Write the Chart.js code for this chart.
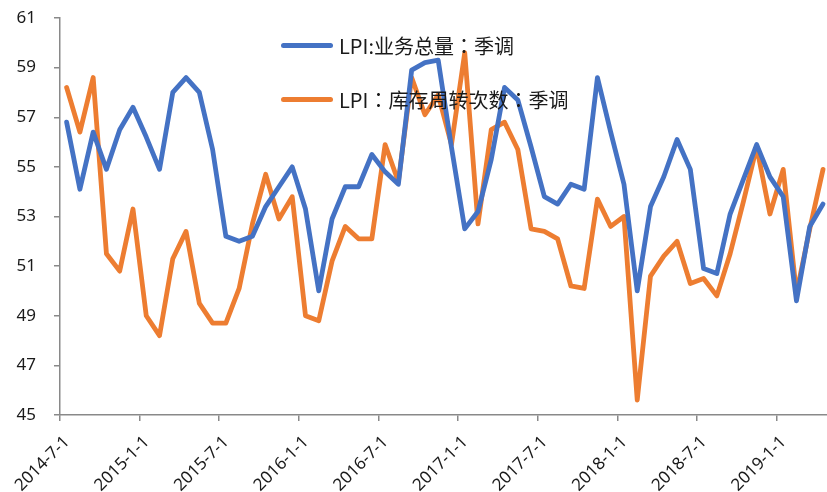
<!DOCTYPE html>
<html>
<head>
<meta charset="utf-8">
<script src="https://cdn.jsdelivr.net/npm/chart.js@4/dist/chart.umd.min.js"></script>
<style>
    body { margin: 0; background: #fff; }
    #wrap { position: relative; width: 827px; height: 492px; }
    .legend-row { position: absolute; left: 281px; height: 26px; display: flex; align-items: center;
        font-family: "Noto Sans CJK TC", "Noto Sans", sans-serif; font-size: 20px; color: #1a1a1a; white-space: nowrap; }
    .legend-row .swatch { width: 52px; height: 5px; border-radius: 3px; margin-right: 6px; }
</style>
</head>
<body>
<div id="wrap">
    <canvas id="lpiChart" width="827" height="492"></canvas>
    <div class="legend-row" style="top:32px;"><span class="swatch" style="background:#4472C4"></span>LPI:业务总量：季调</div>
    <div class="legend-row" style="top:86px;"><span class="swatch" style="background:#ED7D31"></span>LPI：库存周转次数：季调</div>
</div>
<script>
// ========== DATA ========== //
const months = [
    "2014-07", "2014-08", "2014-09", "2014-10", "2014-11", "2014-12",
    "2015-01", "2015-02", "2015-03", "2015-04", "2015-05", "2015-06",
    "2015-07", "2015-08", "2015-09", "2015-10", "2015-11", "2015-12",
    "2016-01", "2016-02", "2016-03", "2016-04", "2016-05", "2016-06",
    "2016-07", "2016-08", "2016-09", "2016-10", "2016-11", "2016-12",
    "2017-01", "2017-02", "2017-03", "2017-04", "2017-05", "2017-06",
    "2017-07", "2017-08", "2017-09", "2017-10", "2017-11", "2017-12",
    "2018-01", "2018-02", "2018-03", "2018-04", "2018-05", "2018-06",
    "2018-07", "2018-08", "2018-09", "2018-10", "2018-11", "2018-12",
    "2019-01", "2019-02", "2019-03", "2019-04"
];

const businessVolume = [
    56.8, 54.1, 56.4, 54.9, 56.5, 57.4, 56.2, 54.9, 58.0, 58.6,
    58.0, 55.7, 52.2, 52.0, 52.2, 53.4, 54.2, 55.0, 53.3, 50.0,
    52.9, 54.2, 54.2, 55.5, 54.8, 54.3, 58.9, 59.2, 59.3, 55.8,
    52.5, 53.2, 55.3, 58.2, 57.7, 55.8, 53.8, 53.5, 54.3, 54.1,
    58.6, 56.4, 54.3, 50.0, 53.4, 54.6, 56.1, 54.9, 50.9, 50.7,
    53.1, 54.5, 55.9, 54.6, 53.8, 49.6, 52.6, 53.5
];

const inventoryTurnover = [
    58.2, 56.4, 58.6, 51.5, 50.8, 53.3, 49.0, 48.2, 51.3, 52.4,
    49.5, 48.7, 48.7, 50.1, 52.7, 54.7, 52.9, 53.8, 49.0, 48.8,
    51.2, 52.6, 52.1, 52.1, 55.9, 54.4, 58.6, 57.1, 57.9, 55.9,
    59.6, 52.7, 56.5, 56.8, 55.7, 52.5, 52.4, 52.1, 50.2, 50.1,
    53.7, 52.6, 53.0, 45.6, 50.6, 51.4, 52.0, 50.3, 50.5, 49.8,
    51.5, 53.6, 55.8, 53.1, 54.9, 49.9, 52.5, 54.9
];

const xTickLabels = [
    "2014-7-1", "2015-1-1", "2015-7-1", "2016-1-1", "2016-7-1",
    "2017-1-1", "2017-7-1", "2018-1-1", "2018-7-1", "2019-1-1"
];

const yTicks = [45, 47, 49, 51, 53, 55, 57, 59, 61];

// each month sits in the middle of its slot, ticks on month boundaries
const toPoints = arr => arr.map((v, i) => ({ x: i + 0.5, y: v }));

const axisColor = "#898989";
const tickFont = { family: "'Noto Sans', sans-serif", size: 17 };

// ========== CHART ========== //
new Chart(document.getElementById("lpiChart"), {
    type: "line",
    data: {
        datasets: [{
            label: "LPI:业务总量：季调",
            data: toPoints(businessVolume),
            borderColor: "#4472C4",
            borderWidth: 4.8,
            pointRadius: 0,
            borderJoinStyle: "round",
            borderCapStyle: "round",
            tension: 0
        }, {
            label: "LPI：库存周转次数：季调",
            data: toPoints(inventoryTurnover),
            borderColor: "#ED7D31",
            borderWidth: 4.8,
            pointRadius: 0,
            borderJoinStyle: "round",
            borderCapStyle: "round",
            tension: 0
        }]
    },
    options: {
        responsive: false,
        animation: false,
        layout: { padding: { top: 18, right: 0, bottom: 0, left: 0 } },
        plugins: { legend: { display: false }, tooltip: { enabled: false } },
        scales: {
            x: {
                type: "linear",
                min: 0,
                max: months.length - 0.2,
                afterFit: s => { s.height = 77; },
                afterBuildTicks: s => { s.ticks = xTickLabels.map((_, k) => ({ value: k * 6 })); },
                ticks: {
                    includeBounds: false,
                    autoSkip: false,
                    minRotation: 45,
                    maxRotation: 45,
                    padding: 11,
                    labelOffset: 7,
                    color: "#1a1a1a",
                    font: tickFont,
                    callback: v => xTickLabels[v / 6]
                },
                grid: { drawOnChartArea: false, drawTicks: true, tickLength: 6, color: axisColor, lineWidth: 1.5 },
                border: { display: true, color: axisColor, width: 1.5 }
            },
            y: {
                min: 45,
                max: 61,
                afterFit: s => { s.width = 60; s.paddingTop = 0; s.paddingBottom = 0; },
                afterBuildTicks: s => { s.ticks = yTicks.map(v => ({ value: v })); },
                ticks: { padding: 18, color: "#1a1a1a", font: tickFont },
                grid: { drawOnChartArea: false, drawTicks: true, tickLength: 6, color: axisColor, lineWidth: 1.5 },
                border: { display: true, color: axisColor, width: 1.5 }
            }
        }
    }
});
</script>
</body>
</html>
